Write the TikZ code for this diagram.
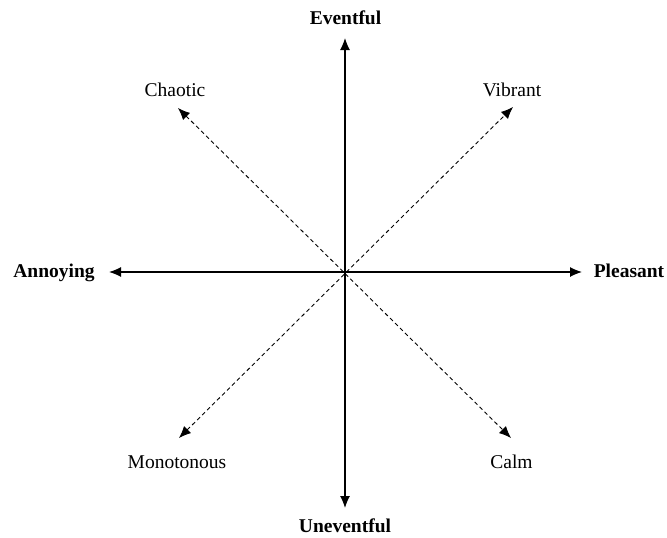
\documentclass[tikz,border=0pt]{standalone}
\usepackage{fontspec}
\setmainfont{Liberation Serif}
\usetikzlibrary{arrows.meta}
\tikzset{
  tip/.tip={Latex[length=12pt,width=10pt]},
  axis/.style={line width=1.2pt, tip-tip},
  diag/.style={line width=0.9pt, dash pattern=on 4pt off 3pt, tip-tip},
  blabel/.style={font=\fontsize{19.5}{22}\selectfont\bfseries, anchor=base, inner sep=0pt},
  rlabel/.style={font=\fontsize{19.5}{22}\selectfont, anchor=base, inner sep=0pt}
}
\begin{document}
\begin{tikzpicture}[x=1pt,y=-1pt]
\useasboundingbox[fill=white] (0,0) rectangle (667,538);
\coordinate (O) at (345,272);
\coordinate (tE) at (345,38);
\coordinate (tU) at (345,508);
\coordinate (tA) at (109,272);
\coordinate (tP) at (582,272);
\coordinate (tC) at (178,108);
\coordinate (tV) at (513,107);
\coordinate (tM) at (179,438);
\coordinate (tCa) at (511,438);
\node[blabel] (E) at (345.5,24) {Eventful};
\node[blabel] (U) at (345,532) {Uneventful};
\node[blabel] (A) at (54,277) {Annoying};
\node[blabel] (P) at (629,277) {Pleasant};
\node[rlabel] (C) at (175,96) {Chaotic};
\node[rlabel] (V) at (512,96) {Vibrant};
\node[rlabel] (M) at (177,468) {Monotonous};
\node[rlabel] (Ca) at (511.5,468) {Calm};
\draw[axis] (tU) -- (tE);
\draw[axis] (tA) -- (tP);
\draw[diag] (tM) -- (tV);
\draw[diag] (tC) -- (tCa);
\end{tikzpicture}
\end{document}
